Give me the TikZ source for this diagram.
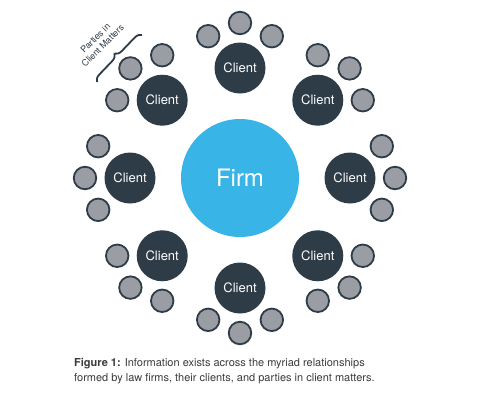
\documentclass[tikz,border=0pt]{standalone}
\usepackage{fontspec}
\setmainfont{TeX Gyre Heros}
\usetikzlibrary{calc,decorations.pathreplacing}
\definecolor{firmblue}{HTML}{39B4E6}
\definecolor{slate}{HTML}{2E3C48}
\definecolor{party}{HTML}{9B9DA4}
\definecolor{captxt}{HTML}{3A3A3A}
\begin{document}
\begin{tikzpicture}[x=1pt,y=-1pt,
  firmnode/.style={circle,fill=firmblue,minimum size=118pt,inner sep=0pt,text=white,font=\fontsize{24}{28}\selectfont},
  clientnode/.style={circle,fill=slate,minimum size=51pt,inner sep=0pt,text=white,font=\fontsize{13}{15}\selectfont},
  partynode/.style={circle,fill=party,draw=slate,line width=1.8pt,minimum size=22.5pt,inner sep=0pt},
  captext/.style={anchor=base west,inner sep=0pt,text=captxt,font=\fontsize{11}{15}\selectfont}]
\useasboundingbox (0,0) rectangle (480,400);
\node[firmnode] (firm) at (240,178) {Firm};
\foreach \i in {0,...,7}{
  \pgfmathsetmacro\a{45*\i}
  \node[clientnode] (c\i) at ($(firm.center)+(\a:110)$) {Client};
  \foreach \j/\d in {1/-45,2/0,3/45}{
    \pgfmathsetmacro\b{\a+\d}
    \node[partynode] (p\i-\j) at ($(c\i.center)+(\b:45)$) {};
  }
}
\coordinate (bA) at (97,82);
\coordinate (bB) at (142,35);
\draw[slate,line width=1.8pt,decorate,decoration={brace,amplitude=7pt}] (bA) -- (bB);
\node[rotate=45,align=center,inner sep=0pt,text=slate,font=\fontsize{9}{10.5}\selectfont] (lbl) at (99,42) {Parties in\\Client Matters};
\node[captext] (cap1) at (74,366) {\textbf{Figure 1:} Information exists across the myriad relationships};
\node[captext] (cap2) at (74,381) {formed by law firms, their clients, and parties in client matters.};
\end{tikzpicture}
\end{document}
